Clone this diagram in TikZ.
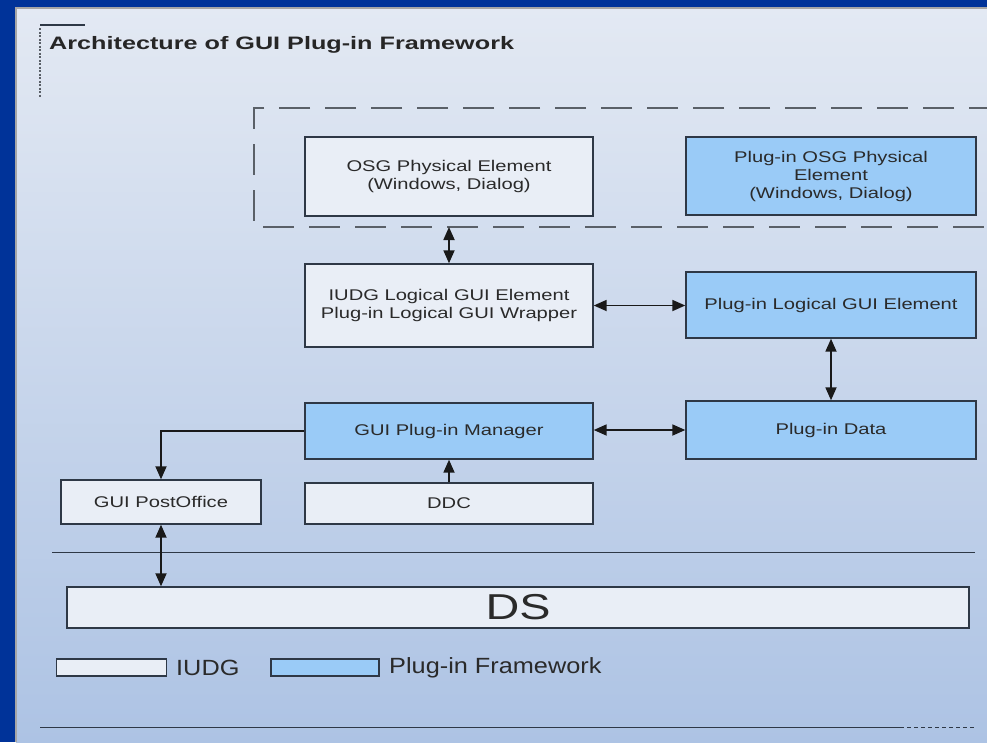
\documentclass[tikz,border=0pt]{standalone}
\usepackage{fontspec}
\setmainfont{Liberation Sans}
\newfontfamily\widefont[FakeStretch=1.3]{Liberation Sans}
\newfontfamily\titlefont[FakeStretch=1.4]{Liberation Sans}
\newfontfamily\legfont[FakeStretch=1.15]{Liberation Sans}
\usetikzlibrary{arrows.meta}
\definecolor{frameblue}{HTML}{003399}
\definecolor{paneltop}{HTML}{E3E9F3}
\definecolor{panelbot}{HTML}{ADC3E4}
\definecolor{iudgfill}{HTML}{E9EEF6}
\definecolor{plugfill}{HTML}{9ACBF7}
\definecolor{edgecol}{HTML}{2E3846}
\definecolor{txtcol}{HTML}{2A2A2A}
\definecolor{dashcol}{HTML}{5A6068}
\tikzset{
  box/.style={draw=edgecol, line width=1.4pt, text=txtcol, align=center,
              font=\widefont\fontsize{15.5}{18}\selectfont, inner sep=2pt},
  iudgbox/.style={box, fill=iudgfill},
  plugbox/.style={box, fill=plugfill},
  tipa/.tip={Triangle[length=13pt,width=11pt]},
  arr/.style={line width=1.8pt, draw=black!90, tipa-tipa},
  arrone/.style={line width=1.8pt, draw=black!90, -tipa},
  legtext/.style={text=txtcol, font=\legfont\fontsize{22}{24}\selectfont, anchor=west, inner sep=0pt},
}
\begin{document}
\begin{tikzpicture}[x=1pt,y=-1pt]
\useasboundingbox (0,0) rectangle (987,742);
\fill[frameblue] (0,0) rectangle (987,742);
\shade[top color=paneltop, bottom color=panelbot] (16,8) rectangle (987,742);
\draw[gray!70, line width=1.5pt] (16,742) -- (16,8) -- (987,8);

% title
\draw[edgecol, line width=1.2pt] (40,25) -- (85,25);
\draw[dashcol, line width=1.5pt, dash pattern=on 2pt off 1.5pt] (40,28) -- (40,97);
\node[anchor=west, inner sep=0pt, text=black!85, font=\titlefont\bfseries\fontsize{18}{20}\selectfont] (title) at (49,45) {Architecture of GUI Plug-in Framework};

% dashed group
\draw[dashcol, line width=1.8pt, dash pattern=on 31pt off 15pt] (1000,108) -- (254,108) -- (254,227) -- (1000,227);

% boxes
\node[iudgbox, minimum width=288pt, minimum height=79pt] (osg) at (449,176.5) {OSG Physical Element\\(Windows, Dialog)};
\node[plugbox, minimum width=290pt, minimum height=78pt] (posg) at (831,176) {Plug-in OSG Physical\\Element\\(Windows, Dialog)};
\node[iudgbox, minimum width=288pt, minimum height=83pt] (ilog) at (449,305.5) {IUDG Logical GUI Element\\Plug-in Logical GUI Wrapper};
\node[plugbox, minimum width=290pt, minimum height=66pt] (plog) at (831,305) {Plug-in Logical GUI Element};
\node[plugbox, minimum width=288pt, minimum height=56pt] (mgr) at (449,431) {GUI Plug-in Manager};
\node[plugbox, minimum width=290pt, minimum height=58pt] (pdata) at (831,430) {Plug-in Data};
\node[iudgbox, minimum width=200pt, minimum height=44pt] (po) at (161,502) {GUI PostOffice};
\node[iudgbox, minimum width=288pt, minimum height=41pt] (ddc) at (449,503.5) {DDC};
\node[iudgbox, minimum width=902pt, minimum height=41pt, font=\widefont\fontsize{36}{38}\selectfont] (ds) at (518,607.5) {DS};

% separator lines
\draw[edgecol, line width=1pt] (52,552) -- (975,552);
\draw[edgecol, line width=1pt] (40,727) -- (900,727);
\draw[edgecol, line width=1pt, dash pattern=on 4pt off 3pt] (900,727) -- (975,727);

% connectors
\coordinate (grpbot) at (449,227);
\draw[arr] (grpbot) -- (grpbot |- ilog.north);
\draw[arr] (ilog.east) -- (ilog.east -| plog.west);
\draw[arr] (plog.south) -- (pdata.north);
\draw[arr] (mgr.east |- pdata.west) -- (pdata.west);
\draw[arrone] (ddc.north) -- (mgr.south);
\draw[arrone] (mgr.west) -| (po.north);
\draw[arr] (po.south) -- (po.south |- ds.north);

% legend
\node[box, fill=iudgfill, minimum width=110pt, minimum height=17pt, inner sep=0pt] (legi) at (111.5,667.5) {};
\node[legtext] (legit) at (176,667.5) {IUDG};
\node[box, fill=plugfill, minimum width=108pt, minimum height=17pt, inner sep=0pt] (legp) at (325,667.5) {};
\node[legtext] (legpt) at (389,667.5) {Plug-in Framework};
\end{tikzpicture}
\end{document}
